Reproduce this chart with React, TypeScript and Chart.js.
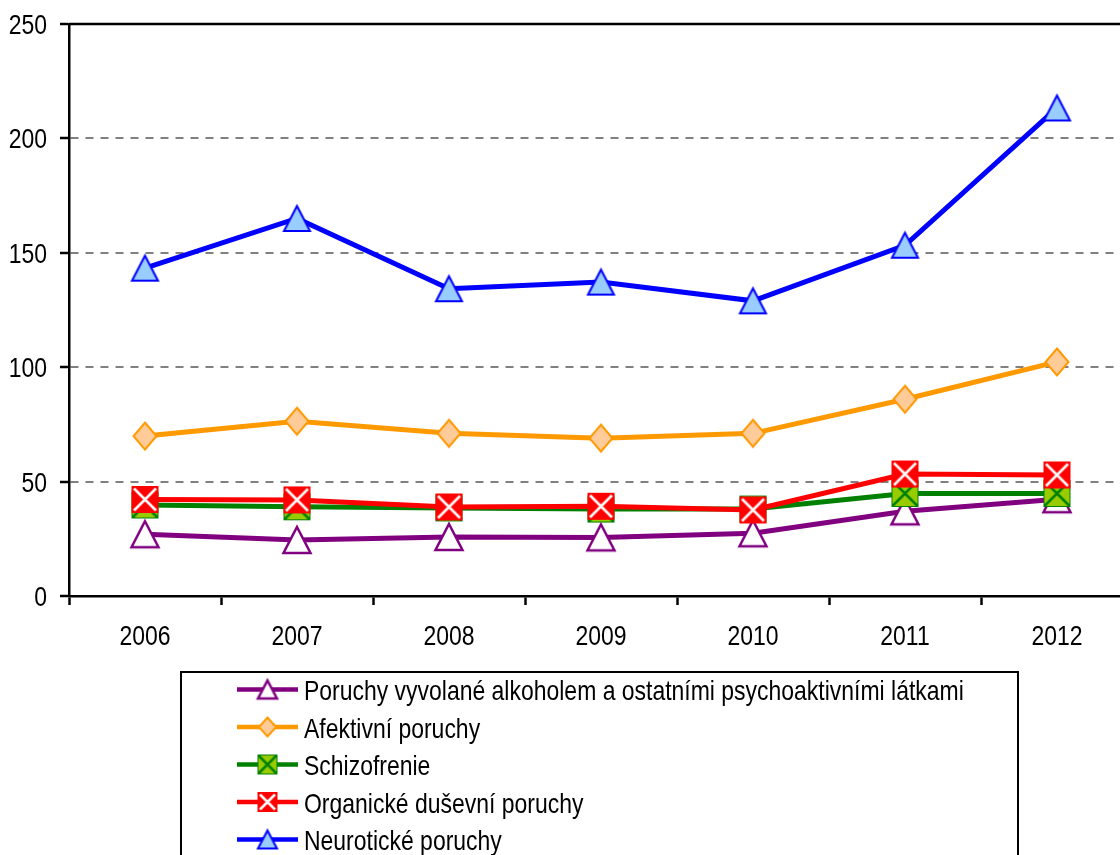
import React, { useEffect, useRef } from "react";
import { Chart, registerables } from "chart.js";

Chart.register(...registerables);

const years = ["2006", "2007", "2008", "2009", "2010", "2011", "2012"];
const alkohol = [27, 24.5, 25.8, 25.6, 27.4, 37, 42.3];
const afektivni = [69.9, 76.4, 71.1, 69, 71.1, 86, 102.3];
const schizofrenie = [39.8, 39, 38.5, 38, 38, 44.8, 44.8];
const organicke = [42.2, 42, 38.9, 39.2, 37.6, 53.3, 52.9];
const neuroticke = [143.3, 165, 134.3, 137.2, 129, 153.3, 213.3];

const seriesNames = [
  "Poruchy vyvolané alkoholem a ostatními psychoaktivními látkami",
  "Afektivní poruchy",
  "Schizofrenie",
  "Organické duševní poruchy",
  "Neurotické poruchy",
];
const yTicks = [0, 50, 100, 150, 200, 250];

const FONT = '"Liberation Sans", Arial, sans-serif';
const FONT_SIZE = 28;
const SX = 0.82; // narrow (condensed) text

type Kind = "triWhite" | "triBlue" | "diamond" | "sqGreen" | "sqRed";

function makeMarker(kind: Kind, w: number, h: number): HTMLCanvasElement {
  const pad = 3;
  const c = document.createElement("canvas");
  c.width = w + pad * 2;
  c.height = h + pad * 2;
  const g = c.getContext("2d")!;
  const l = pad, t = pad, r = pad + w, b = pad + h, cx = pad + w / 2, cy = pad + h / 2;
  g.lineJoin = "miter";
  if (kind === "triWhite" || kind === "triBlue") {
    g.beginPath();
    g.moveTo(cx, t + 1);
    g.lineTo(r - 0.5, b - 1);
    g.lineTo(l + 0.5, b - 1);
    g.closePath();
    g.fillStyle = kind === "triWhite" ? "#ffffff" : "#99CCFF";
    g.fill();
    g.lineWidth = kind === "triWhite" ? 2.5 : 2;
    g.strokeStyle = kind === "triWhite" ? "#800080" : "#0000FF";
    g.stroke();
  } else if (kind === "diamond") {
    g.beginPath();
    g.moveTo(cx, t + 0.5);
    g.lineTo(r - 0.5, cy);
    g.lineTo(cx, b - 0.5);
    g.lineTo(l + 0.5, cy);
    g.closePath();
    g.fillStyle = "#FFCC99";
    g.fill();
    g.lineWidth = 2;
    g.strokeStyle = "#FF9900";
    g.stroke();
  } else {
    const green = kind === "sqGreen";
    g.fillStyle = green ? "#99CC00" : "#FF0000";
    g.fillRect(l, t, w, h);
    g.strokeStyle = green ? "#008000" : "#ffffff";
    g.lineWidth = 2.5;
    const i = green ? 1 : 2.5;
    g.beginPath();
    g.moveTo(l + i, t + i);
    g.lineTo(r - i, b - i);
    g.moveTo(r - i, t + i);
    g.lineTo(l + i, b - i);
    g.stroke();
    if (green) {
      g.lineWidth = 1;
      g.strokeRect(l + 0.5, t + 0.5, w - 1, h - 1);
    }
  }
  return c;
}

function narrowText(ctx: CanvasRenderingContext2D, text: string, x: number, y: number, align: CanvasTextAlign) {
  ctx.save();
  ctx.translate(x, y);
  ctx.scale(SX, 1);
  ctx.font = `${FONT_SIZE}px ${FONT}`;
  ctx.fillStyle = "#000";
  ctx.textAlign = align;
  ctx.textBaseline = "alphabetic";
  ctx.fillText(text, 0, 0);
  ctx.restore();
}

export default function App() {
  const ref = useRef<HTMLCanvasElement | null>(null);

  useEffect(() => {
    const canvas = ref.current!;
    const kinds: Kind[] = ["triWhite", "diamond", "sqGreen", "sqRed", "triBlue"];
    const colors = ["#800080", "#FF9900", "#008000", "#FF0000", "#0000FF"];
    const values = [alkohol, afektivni, schizofrenie, organicke, neuroticke];
    const sizes: [number, number][] = [[28, 28], [24, 28], [27, 27], [27, 27], [27, 27]];
    const legendSizes: [number, number][] = [[20, 20], [18, 20], [20, 20], [20, 20], [20, 20]];
    const plotMarkers = kinds.map((k, i) => makeMarker(k, sizes[i][0], sizes[i][1]));
    const legendMarkers = kinds.map((k, i) => makeMarker(k, legendSizes[i][0], legendSizes[i][1]));

    const datasets = values.map((v, i) => ({
      label: seriesNames[i],
      data: v,
      borderColor: colors[i],
      backgroundColor: colors[i],
      borderWidth: 5,
      tension: 0,
      pointStyle: plotMarkers[i] as any,
      pointRadius: 14,
      order: 5 - i,
      clip: false as any,
    }));

    const framePlugin = {
      id: "frame",
      beforeDatasetsDraw(chart: any) {
        const { ctx, chartArea } = chart;
        ctx.save();
        ctx.strokeStyle = "#000";
        ctx.lineWidth = 2.5;
        ctx.beginPath();
        ctx.moveTo(chartArea.left, chartArea.top);
        ctx.lineTo(chartArea.right, chartArea.top);
        ctx.stroke();
        ctx.restore();
      },
      afterDraw(chart: any) {
        const { ctx } = chart;
        const xs = chart.scales.x;
        const ys = chart.scales.y;
        yTicks.forEach((v) => {
          narrowText(ctx, String(v), 47, ys.getPixelForValue(v) + 10, "right");
        });
        years.forEach((yr, i) => {
          narrowText(ctx, yr, xs.getPixelForValue(i), 645, "center");
        });
        ctx.save();
        const bx = 181, by = 672, bw = 837, bh = 300;
        ctx.strokeStyle = "#000";
        ctx.lineWidth = 2;
        ctx.strokeRect(bx, by, bw, bh);
        const rowY0 = 689.5, rowStep = 37.5;
        seriesNames.forEach((name, i) => {
          const y = rowY0 + i * rowStep;
          ctx.strokeStyle = colors[i];
          ctx.lineWidth = 4.5;
          ctx.beginPath();
          ctx.moveTo(237, y);
          ctx.lineTo(298, y);
          ctx.stroke();
          const m = legendMarkers[i];
          ctx.drawImage(m, 267.5 - m.width / 2, y - m.height / 2);
          narrowText(ctx, name, 304, y + 10.5, "left");
        });
        ctx.restore();
      },
    };

    const chart = new Chart(canvas, {
      type: "line",
      data: { labels: years, datasets: datasets as any },
      plugins: [framePlugin],
      options: {
        animation: false,
        responsive: false,
        events: [],
        layout: { autoPadding: false, padding: { top: 24, right: 7, bottom: 0, left: 0 } },
        plugins: { legend: { display: false }, tooltip: { enabled: false } },
        scales: {
          x: {
            type: "category",
            offset: true,
            afterFit(scale: any) {
              scale.height = 855 - 596;
            },
            grid: {
              offset: true,
              drawOnChartArea: false,
              drawTicks: true,
              tickLength: 9,
              tickColor: "#000",
              tickWidth: 2.5,
              color: "#000",
            },
            border: { display: true, color: "#000", width: 2.5 },
            ticks: { display: false },
          },
          y: {
            min: 0,
            max: 250,
            afterFit(scale: any) {
              scale.width = 69;
            },
            afterBuildTicks(scale: any) {
              scale.ticks = yTicks.map((v) => ({ value: v }));
            },
            grid: {
              drawTicks: true,
              tickLength: 9,
              tickColor: "#000",
              tickWidth: 2.5,
              lineWidth: 2,
              color: (c: any) =>
                c.tick && (c.tick.value === 0 || c.tick.value === 250) ? "rgba(0,0,0,0)" : "#808080",
            },
            border: { display: true, color: "#000", width: 2.5, dash: [8, 7] },
            ticks: { display: false },
          },
        },
      },
    });
    return () => chart.destroy();
  }, []);

  return (
    <div
      style={{
        position: "fixed",
        left: 0,
        top: 0,
        width: 1120,
        height: 855,
        overflow: "hidden",
        background: "#fff",
      }}
    >
      <div style={{ width: 1140, height: 855 }}>
        <canvas ref={ref} width={1140} height={855} style={{ width: 1140, height: 855, display: "block" }} />
      </div>
    </div>
  );
}
